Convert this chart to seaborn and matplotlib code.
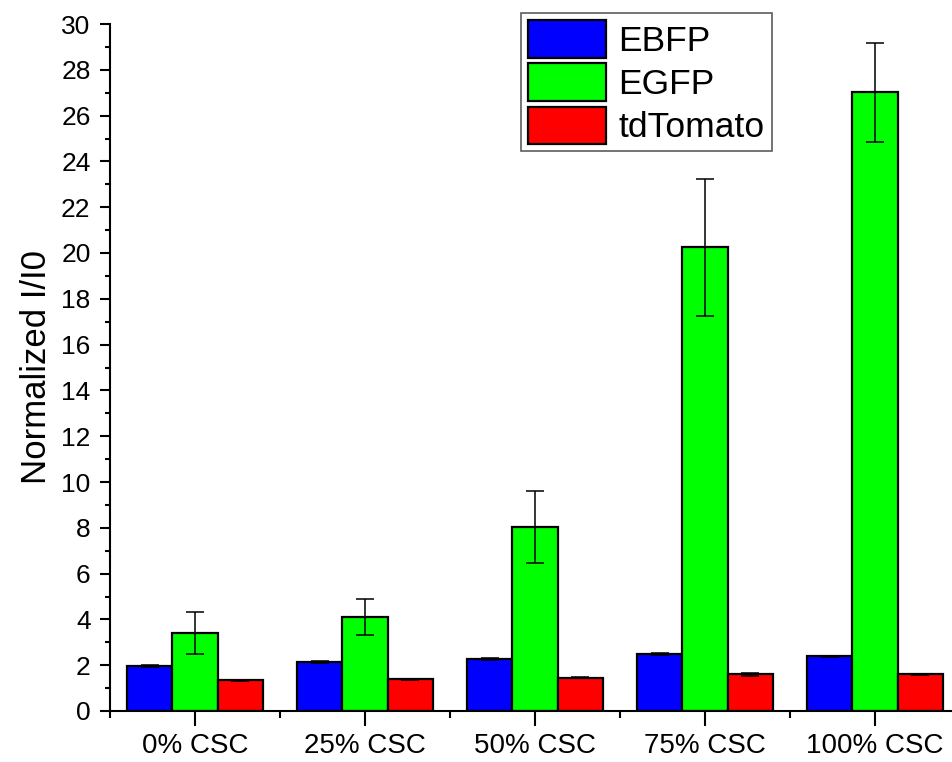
import matplotlib
matplotlib.use("Agg")
import matplotlib.pyplot as plt
from matplotlib.ticker import MultipleLocator, FixedLocator
import seaborn as sns
import pandas as pd

# Fluorescence response per CSC fraction
categories = ["0% CSC", "25% CSC", "50% CSC", "75% CSC", "100% CSC"]
proteins = ["EBFP", "EGFP", "tdTomato"]
ebfp = [1.95, 2.13, 2.28, 2.49, 2.38]
egfp = [3.41, 4.10, 8.03, 20.25, 27.02]
tdtomato = [1.34, 1.38, 1.46, 1.60, 1.60]
ebfp_err = [0.05, 0.04, 0.05, 0.06, 0.02]
egfp_err = [0.90, 0.78, 1.57, 3.00, 2.17]
tdtomato_err = [0.03, 0.03, 0.03, 0.05, 0.03]
colors = ["#0000FF", "#00FF00", "#FF0000"]

values = {"EBFP": ebfp, "EGFP": egfp, "tdTomato": tdtomato}
errors = {"EBFP": ebfp_err, "EGFP": egfp_err, "tdTomato": tdtomato_err}

rows = []
for p in proteins:
    for c, v in zip(categories, values[p]):
        rows.append({"Sample": c, "Protein": p, "Value": v})
df = pd.DataFrame(rows)

sns.set_style("white")
plt.rcParams["font.family"] = ["Liberation Sans", "DejaVu Sans"]
plt.rcParams.update({"text.color": "black", "axes.labelcolor": "black",
                     "xtick.color": "black", "ytick.color": "black"})

fig = plt.figure(figsize=(9.53, 7.62), dpi=100)
ax = fig.add_axes([110 / 953, 51 / 762, 850 / 953, 687 / 762])

sns.barplot(data=df, x="Sample", y="Value", hue="Protein", order=categories,
            hue_order=proteins, palette=colors, saturation=1, errorbar=None,
            edgecolor="black", linewidth=1.6, width=0.8, ax=ax)

# Error bars centred on each drawn bar
for container, p in zip(ax.containers, proteins):
    xs = [b.get_x() + b.get_width() / 2 for b in container]
    ax.errorbar(xs, values[p], yerr=errors[p], fmt="none", ecolor="black",
                elinewidth=1.1, capsize=6.5, capthick=1.1, zorder=5)

ax.set_xlim(-0.5, 4.5)
ax.set_ylim(0, 30)
ax.yaxis.set_major_locator(MultipleLocator(2))
ax.yaxis.set_minor_locator(MultipleLocator(1))
ax.xaxis.set_minor_locator(FixedLocator([-0.5, 0.5, 1.5, 2.5, 3.5, 4.5]))

for s in ["top", "right"]:
    ax.spines[s].set_visible(False)
for s in ["left", "bottom"]:
    ax.spines[s].set_linewidth(1.5)
    ax.spines[s].set_color("black")

ax.tick_params(axis="y", which="major", direction="out", length=7, width=1.5,
               labelsize=19, pad=7, left=True)
ax.tick_params(axis="y", which="minor", direction="out", length=3.8, width=1.5,
               left=True)
ax.tick_params(axis="x", which="major", direction="out", length=11, width=1.5,
               labelsize=20, pad=5, bottom=True)
ax.tick_params(axis="x", which="minor", direction="out", length=5, width=1.5,
               bottom=True)

ax.set_xlabel("")
ax.set_ylabel("Normalized I/I0", fontsize=25, labelpad=6)

leg = ax.legend(loc="upper left", bbox_to_anchor=(521 / 953, 1 - 13 / 762),
                bbox_transform=fig.transFigure, fontsize=25.5, frameon=True,
                fancybox=False, edgecolor="#333333", handlelength=2.2,
                handleheight=1.25, labelspacing=0.16, handletextpad=0.35,
                borderpad=0.2, borderaxespad=0)
leg.get_frame().set_linewidth(1.2)
for h in leg.get_patches():
    h.set_edgecolor("black")
    h.set_linewidth(1.6)

fig.savefig("out.png", dpi=100)
